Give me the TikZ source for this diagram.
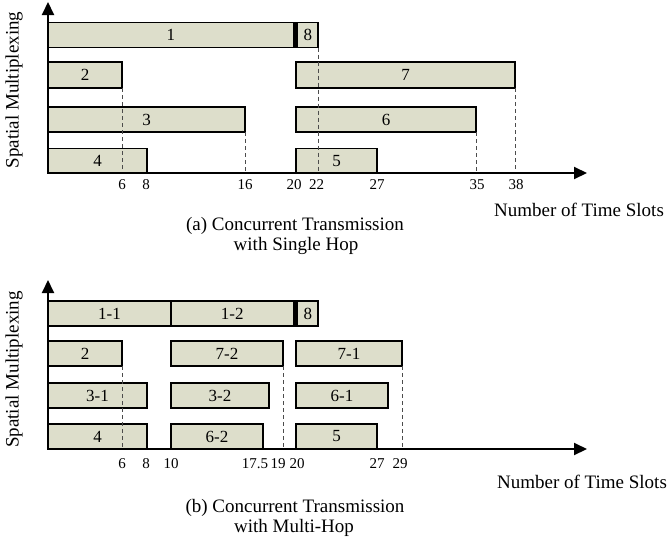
\documentclass[tikz,border=0pt]{standalone}
\usepackage{fontspec}
\setmainfont{Liberation Serif}
\usetikzlibrary{arrows.meta}
\definecolor{barfill}{RGB}{221,222,203}
\newcommand\mkbar[6]{\node[bar, minimum width={(#4)-(#2)}, minimum height={(#5)-(#3)}] (#1) at ({((#2)+(#4))/2},{((#3)+(#5))/2}) {#6};}
\begin{document}
\begin{tikzpicture}[x=1pt,y=-1pt,
  bar/.style={draw=black, line width=1.8pt, fill=barfill, inner sep=0pt, outer sep=0pt, font=\fontsize{17}{20}\selectfont},
  axis/.style={line width=2pt, -{Triangle[length=13pt,width=12pt]}},
  dashln/.style={dash pattern=on 4pt off 3pt, line width=0.9pt, draw=black!70},
  tick/.style={font=\fontsize{15}{18}\selectfont, inner sep=0pt},
  lbl/.style={font=\fontsize{19}{22}\selectfont, inner sep=0pt},
]
\useasboundingbox (0,0) rectangle (668,544);

% ---------------- (a) single hop ----------------
\coordinate (oa) at (48,173);
\coordinate (ya) at (48,2);
\coordinate (xa) at (587,173);

\mkbar{a1}{48}{22.5}{293.5}{47.5}{1}
\mkbar{a8}{297.5}{22.5}{318}{47.5}{8}
\fill ([shift={(-0.9,-0.9)}]a1.north east) rectangle ([shift={(0.9,0.9)}]a8.south west);
\mkbar{a2}{48}{62}{122}{88}{2}
\mkbar{a7}{296}{62}{515}{88}{7}
\mkbar{a3}{48}{107}{245}{132}{3}
\mkbar{a6}{296}{107}{476}{132}{6}
\mkbar{a4}{48}{148.5}{147}{173}{4}
\mkbar{a5}{296}{148.5}{377}{173}{5}

\draw[dashln] (a2.south east) -- (a2.south east |- oa);
\draw[dashln] (a3.south east) -- (a3.south east |- oa);
\draw[dashln] (a8.south east) -- (a8.south east |- oa);
\draw[dashln] (a6.south east) -- (a6.south east |- oa);
\draw[dashln] (a7.south east) -- (a7.south east |- oa);

\draw[axis] (oa) -- (ya);
\draw[axis] (oa) -- (xa);

\node[tick] (ta6)  at (122,184.5) {6};
\node[tick] (ta8)  at (146,184.5) {8};
\node[tick] (ta16) at (245,184.5) {16};
\node[tick] (ta20) at (294,184.5) {20};
\node[tick] (ta22) at (316.5,184.5) {22};
\node[tick] (ta27) at (377,184.5) {27};
\node[tick] (ta35) at (477,184.5) {35};
\node[tick] (ta38) at (516,184.5) {38};

\node[lbl, anchor=base] (xla) at (579,216.5) {Number of Time Slots};
\node[lbl, anchor=base] (capa1) at (295,230) {(a) Concurrent Transmission};
\node[lbl, anchor=base] (capa2) at (296,250) {with Single Hop};
\node[lbl, rotate=90] (yla) at (14,90) {Spatial Multiplexing};

% ---------------- (b) multi-hop ----------------
\coordinate (ob) at (48,449);
\coordinate (yb) at (48,280);
\coordinate (xb) at (587,449);

\mkbar{b11}{48}{301}{171}{326}{1-1}
\mkbar{b12}{171}{301}{293.5}{326}{1-2}
\mkbar{b8}{297.5}{301}{318}{326}{8}
\fill ([shift={(-0.9,-0.9)}]b12.north east) rectangle ([shift={(0.9,0.9)}]b8.south west);
\mkbar{b2}{48}{341}{122}{366}{2}
\mkbar{b72}{171}{341}{283}{366}{7-2}
\mkbar{b71}{296}{341}{402}{366}{7-1}
\mkbar{b31}{48}{383}{147}{408}{3-1}
\mkbar{b32}{171}{383}{269}{408}{3-2}
\mkbar{b61}{296}{383}{388}{408}{6-1}
\mkbar{b4}{48}{424}{147}{449}{4}
\mkbar{b62}{171}{424}{263}{449}{6-2}
\mkbar{b5}{296}{424}{377}{449}{5}

\draw[dashln] (b2.south east) -- (b2.south east |- ob);
\draw[dashln] (b72.south east) -- (b72.south east |- ob);
\draw[dashln] (b71.south east) -- (b71.south east |- ob);

\draw[axis] (ob) -- (yb);
\draw[axis] (ob) -- (xb);

\node[tick] (tb6)  at (122,464) {6};
\node[tick] (tb8)  at (146,464) {8};
\node[tick] (tb10) at (171,464) {10};
\node[tick] (tb175) at (255,464) {17.5};
\node[tick] (tb19) at (278,464) {19};
\node[tick] (tb20) at (297,464) {20};
\node[tick] (tb27) at (377,464) {27};
\node[tick] (tb29) at (400,464) {29};

\node[lbl, anchor=base] (xlb) at (582,488.5) {Number of Time Slots};
\node[lbl, anchor=base] (capb1) at (295,512) {(b) Concurrent Transmission};
\node[lbl, anchor=base] (capb2) at (294,532) {with Multi-Hop};
\node[lbl, rotate=90] (ylb) at (14,369.5) {Spatial Multiplexing};
\end{tikzpicture}
\end{document}
